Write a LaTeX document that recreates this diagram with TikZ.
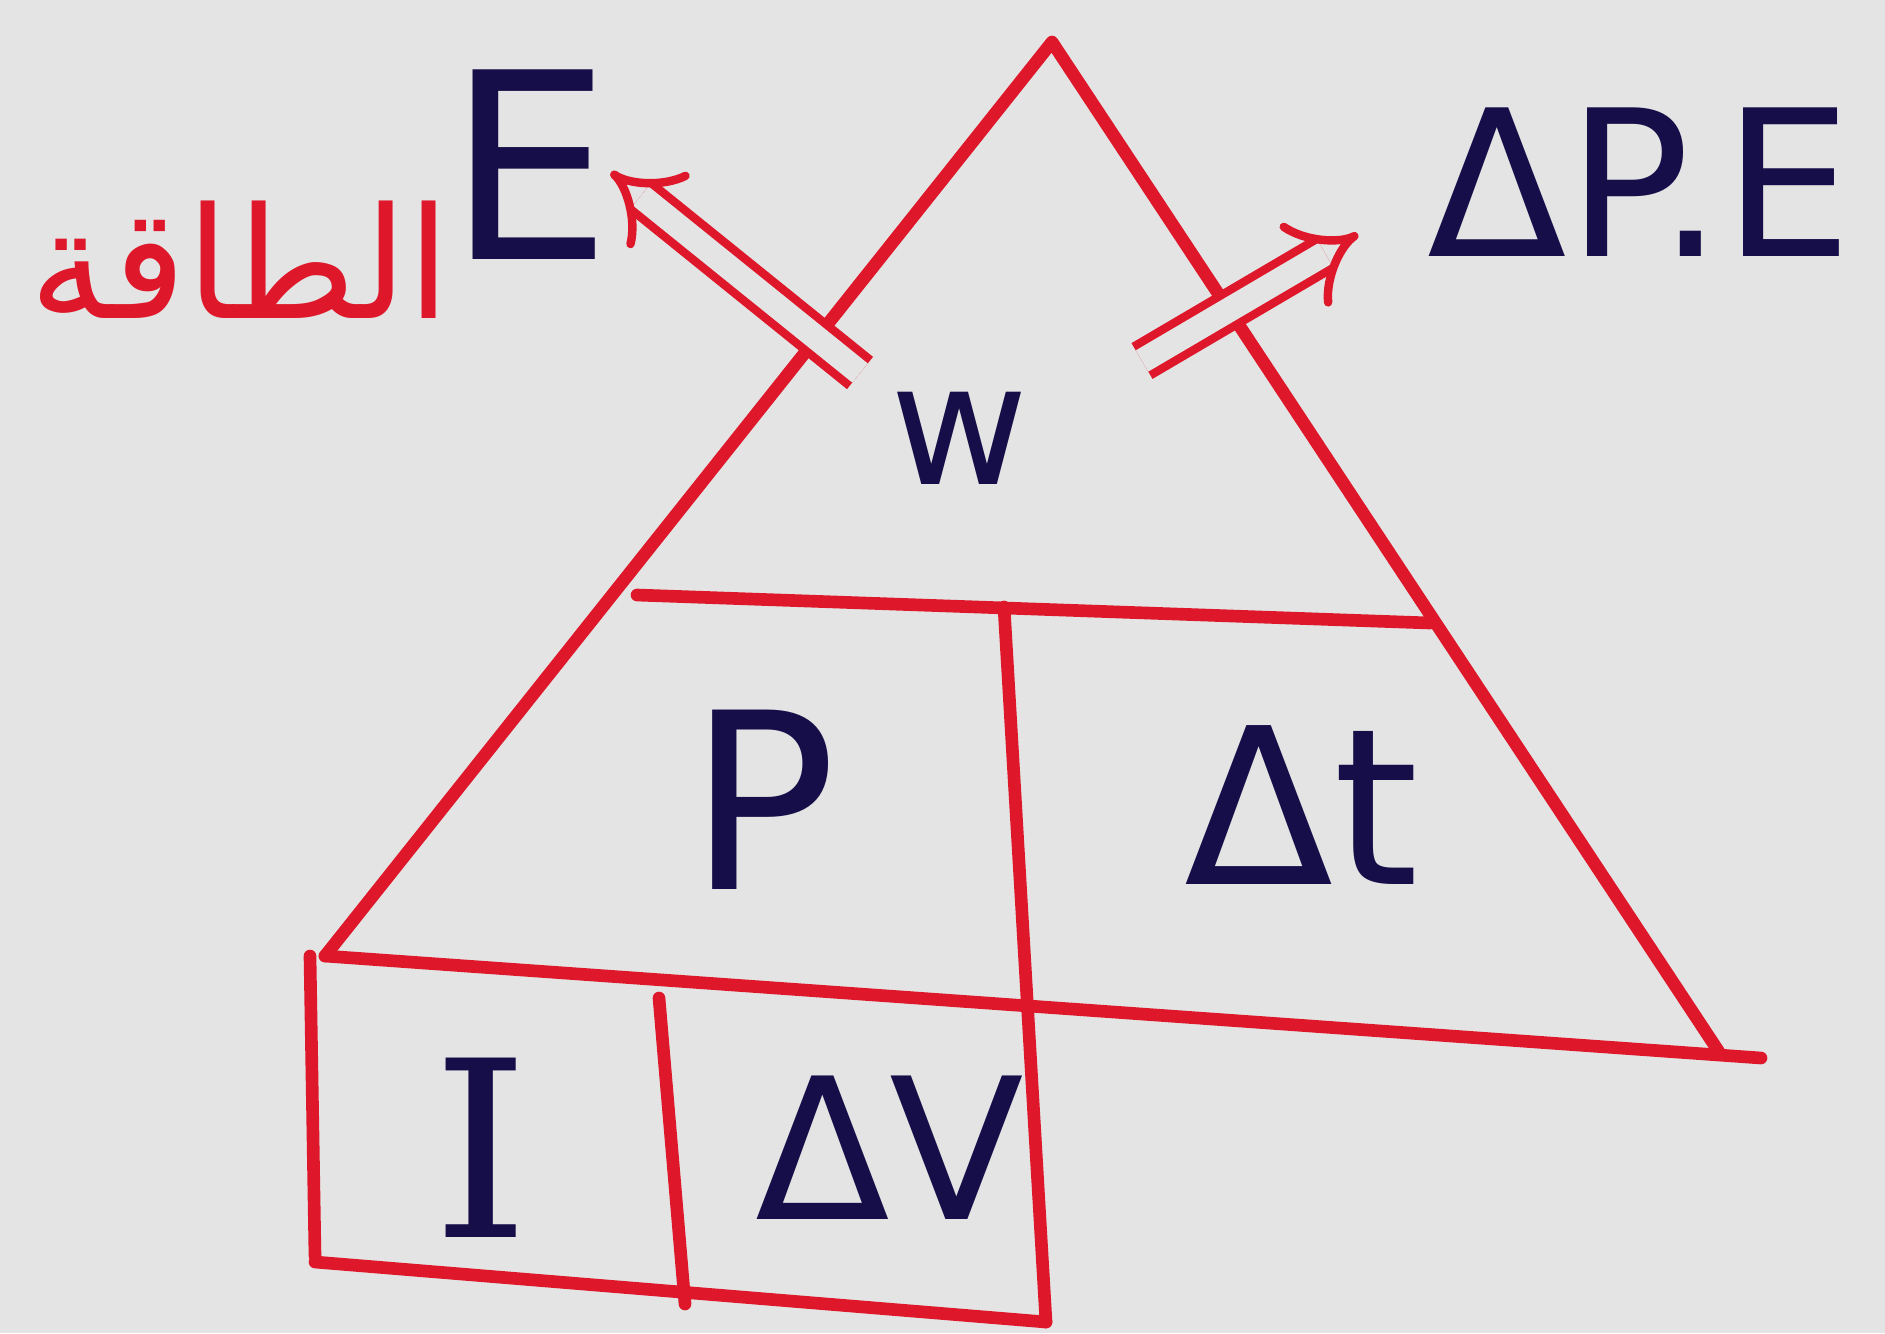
\documentclass[tikz,border=0pt]{standalone}
\usepackage{fontspec}
\newfontfamily\arabicfont[Script=Arabic]{DejaVu Sans}
\newfontfamily\labelfont{DejaVu Sans}
\newfontfamily\serifletter{DejaVu Serif}
\TeXXeTstate=1
\usetikzlibrary{arrows.meta}

\definecolor{penred}{RGB}{222,24,42}
\definecolor{penblue}{RGB}{22,14,72}
\definecolor{paper}{RGB}{228,228,228}

\begin{document}
\begin{tikzpicture}[
        x=0.01cm, y=-0.01cm,
        edge/.style={penred, line width=3.6pt, line cap=round, line join=round},
        sym/.style={penblue, font=\labelfont\fontsize{70}{70}\selectfont, inner sep=0pt},
        twin/.style={penred, line width=2.4pt, double=paper, double distance=7pt, line cap=butt, -{Implies[length=30pt]}}
    ]

    \fill[paper] (0,0) rectangle (1885,1333);
    \useasboundingbox (0,0) rectangle (1885,1333);

    % corners of the triangle
    \coordinate (A) at (1052,42);
    \coordinate (L) at (325,956);
    \coordinate (R) at (1719,1052);
    \coordinate (Rx) at (1761,1058);

    \draw[edge] (L) -- (A) -- (R);
    \draw[edge] (L) -- (Rx);
    \draw[edge] (637,595) -- (1430,623);
    \draw[edge] (1004,607) -- (1046,1322);

    % box under the triangle
    \draw[edge] (310,956) -- (315,1256);
    \draw[edge] (315,1262) -- (1046,1322);
    \draw[edge] (659,998) -- (685,1304);

    \node[sym, font=\labelfont\fontsize{48}{48}\selectfont] (w) at (960,438) {w};
    \node[sym] (p) at (763,800) {P};
    \node[sym, font=\labelfont\fontsize{62}{62}\selectfont] (dt) at (1302,805) {Δt};
    \node[sym, font=\serifletter\fontsize{70}{70}\selectfont] (i) at (481,1148) {I};
    \node[sym, font=\labelfont\fontsize{56}{56}\selectfont] (dv) at (890,1148) {ΔV};

    \node[sym, font=\labelfont\fontsize{74}{74}\selectfont] (e) at (530,165) {E};
    \node[penred, inner sep=0pt, font=\arabicfont\fontsize{44}{44}\selectfont] (taqa) at (240,260) {\beginR الطاقة\endR};
    \node[sym, font=\labelfont\fontsize{58}{58}\selectfont] (dpe) at (1640,182) {ΔP.E};

    \coordinate (t1) at (860,373);
    \coordinate (h1) at (611,172);
    \coordinate (t2) at (1142,361);
    \coordinate (h2) at (1358,234);
    \draw[twin] (t1) -- (h1);
    \draw[twin] (t2) -- (h2);
\end{tikzpicture}
\end{document}
